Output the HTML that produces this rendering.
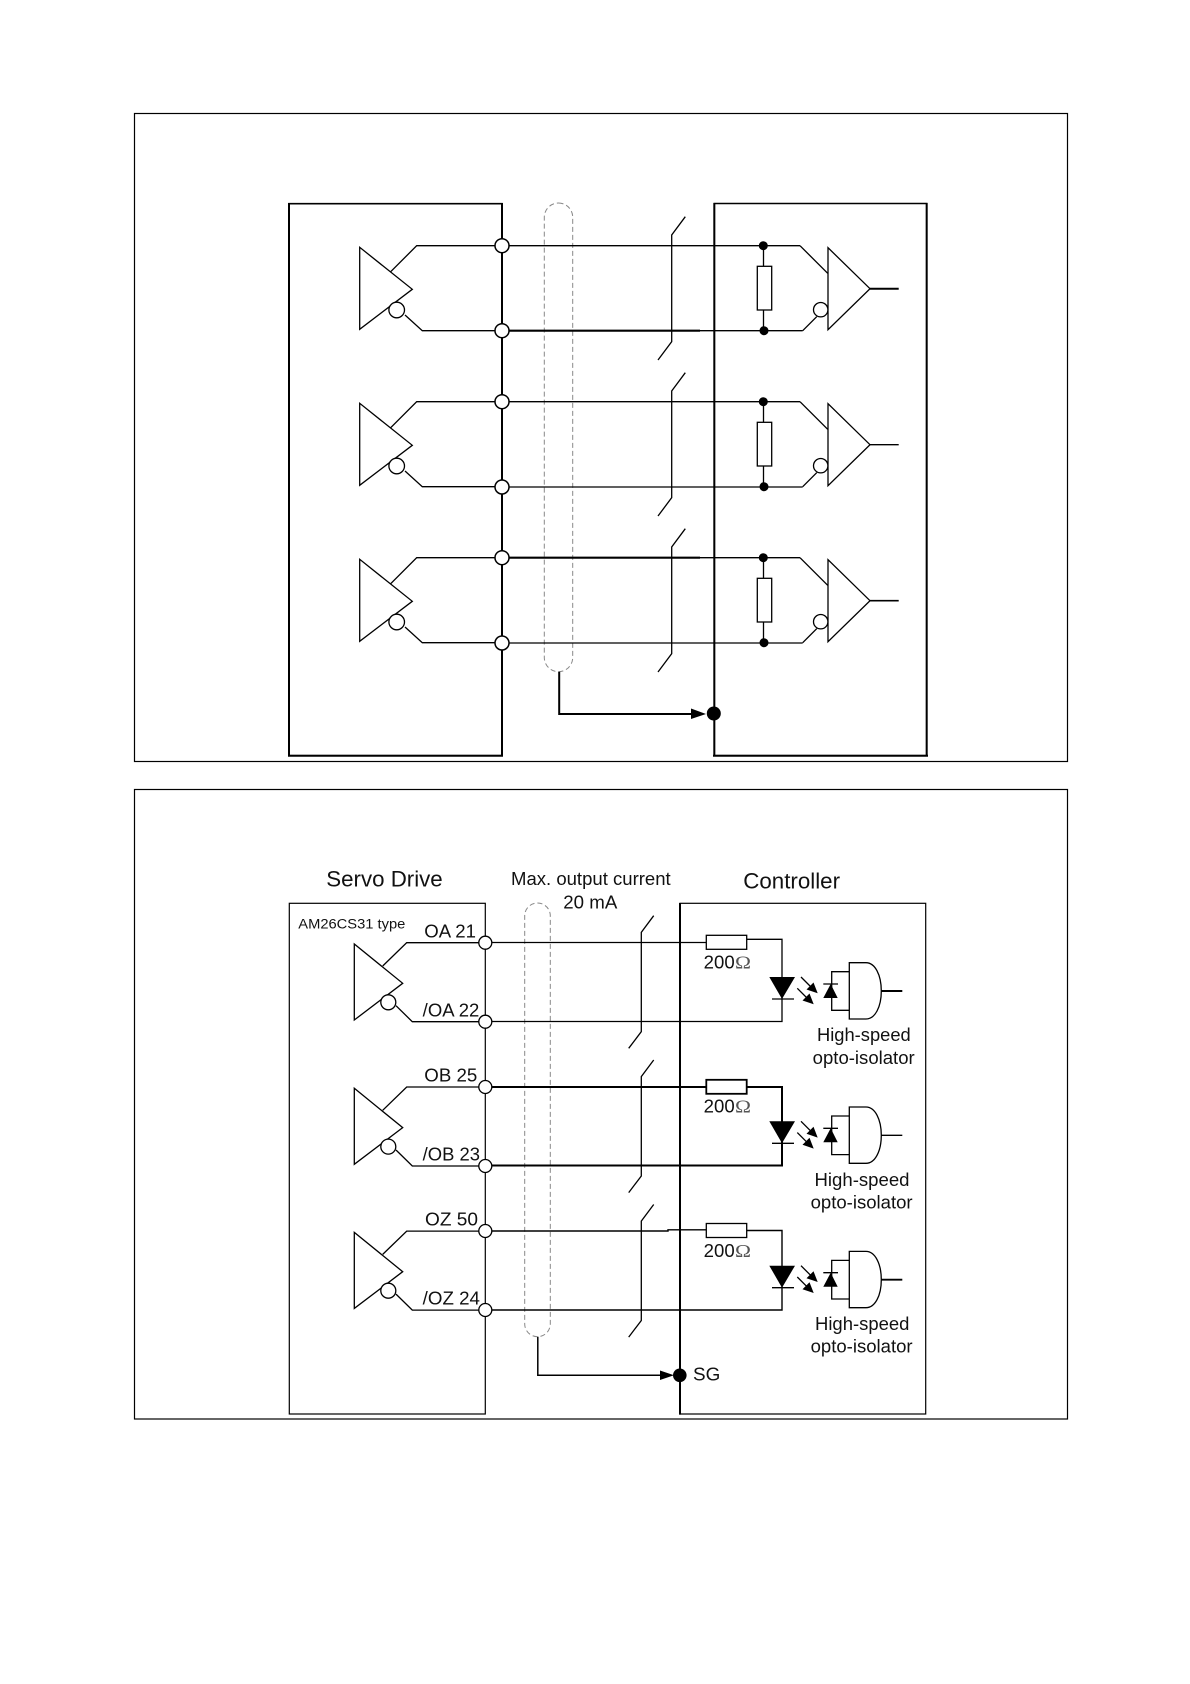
<!DOCTYPE html>
<html><head><meta charset="utf-8"><style>
html,body{margin:0;padding:0;background:#fff}
svg{display:block}
text{font-family:"Liberation Sans",Arial,sans-serif;fill:#111}
</style></head><body>
<svg width="1190" height="1684" viewBox="0 0 1190 1684" xmlns="http://www.w3.org/2000/svg">
<defs>
<g id="a">
  <path d="M359.7 247.3V329.3L412.3 289.3Z" fill="#fff"/>
  <path d="M390.7 271.7L416.7 245.7H502M405 315L422.3 330.7H502" fill="none"/>
  <circle cx="396.7" cy="310" r="7.8" fill="#fff"/>
</g>
<g id="b">
  <path d="M800 245.7L827.7 273.3M802.7 330.7L816.7 316.7M763.5 245.7V330.7" fill="none" stroke-width="1.3"/>
  <rect x="757.3" y="266.3" width="14.4" height="43.7" fill="#fff"/>
  <circle cx="763.3" cy="245.7" r="4.5" fill="#000" stroke="none"/>
  <circle cx="764" cy="330.7" r="4.5" fill="#000" stroke="none"/>
  <path d="M828 247.7V329.7L870 288.7Z" fill="#fff"/>
  <circle cx="820.7" cy="309.7" r="7.2" fill="#fff"/>
</g>
<path id="t1" d="M685.3 216.7L671.7 235V341.7L658 360" fill="none"/>
<g id="c">
  <path d="M354.3 944V1020L402.7 983.3Z" fill="#fff"/>
  <path d="M382.7 966L406.7 942.7H485M396 1005.7L412.3 1021.7H485" fill="none"/>
  <circle cx="388.3" cy="1002.3" r="7.5" fill="#fff"/>
</g>
<path id="t2" d="M653.7 915.7L641.3 932.3V1031.7L628.7 1048.3" fill="none"/>
<g id="d">
  <path d="M801 977L812 988M797.3 988.3L808 999" fill="none" stroke-width="1.3"/>
  <path d="M817.7 993.3L806.5 989.5L813.5 982.5ZM813.7 1004.3L802.5 1000.5L809.5 993.5Z" fill="#000" stroke="none"/>
  <path d="M769.3 977H795L782 999Z" fill="#000" stroke="none"/>
  <path d="M772 999H794M823.3 984H838" fill="none" stroke-width="1.3"/>
  <path d="M830.7 984L837.7 998H823.3Z" fill="#000" stroke="none"/>
  <path d="M849.3 971.7H831.7V1010.3H849.3" fill="none"/>
  <path d="M849.3 962.7H866C875 962.7 881.3 975 881.3 991C881.3 1007 875 1019 866 1019H849.3Z" fill="#fff" stroke-width="1.3"/>
</g>
</defs>

<rect width="1190" height="1684" fill="#fff"/>

<!-- Panel 1 -->
<rect x="134.5" y="113.5" width="933" height="648" fill="none" stroke="#000" stroke-width="1.2"/>
<path d="M289 755.7V203.7H502V755.7H289" fill="none" stroke="#000" stroke-width="1.6"/>
<path d="M289 203V756.5M502 203V756.5M288 755.7H503" fill="none" stroke="#000" stroke-width="2"/>
<path d="M714.3 755.7V203.5H926.7V755.7H714.3" fill="none" stroke="#000" stroke-width="1.6"/>
<path d="M714.3 203V756.5M926.7 203V756.5M713 755.7H928" fill="none" stroke="#000" stroke-width="2"/>
<rect x="544.3" y="203" width="28.4" height="468.7" rx="14.2" ry="14.2" fill="none" stroke="#888" stroke-width="1" stroke-dasharray="5 3"/>

<g stroke="#000" stroke-width="1.3" fill="none">
  <path d="M502 245.7H800M502 401.7H800M502 487H802.7M502 643H802.7M700 330.7H802.7M700 557.7H800"/>
  <path d="M502 330.7H700M502 557.7H700" stroke-width="2.2"/>
  <path d="M870 288.7H898.7" stroke-width="2"/>
  <path d="M870 444.7H898.7"/>
  <path d="M870 600.7H898.7" stroke-width="1.6"/>
  <path d="M559.2 671.7V714H692" stroke-width="2"/>
  <use href="#a"/><use href="#a" y="156"/><use href="#a" y="312"/>
  <use href="#t1"/><use href="#t1" y="156"/><use href="#t1" y="312"/>
  <use href="#b"/><use href="#b" y="156"/><use href="#b" y="312"/>
  <g fill="#fff" stroke-width="1.5">
    <circle cx="502" cy="245.7" r="7"/><circle cx="502" cy="330.7" r="7"/>
    <circle cx="502" cy="401.7" r="7"/><circle cx="502" cy="487" r="7"/>
    <circle cx="502" cy="557.7" r="7"/><circle cx="502" cy="643" r="7"/>
  </g>
</g>
<path d="M691 708.5L706 714L691 719Z" fill="#000"/>
<circle cx="713.8" cy="713.5" r="7" fill="#000"/>

<!-- Panel 2 -->
<rect x="134.5" y="789.5" width="933" height="629.5" fill="none" stroke="#000" stroke-width="1.2"/>
<rect x="289.3" y="903.3" width="196" height="510.7" fill="none" stroke="#000" stroke-width="1.2"/>
<rect x="680" y="903.3" width="245.7" height="510.7" fill="none" stroke="#000" stroke-width="1.2"/>
<path d="M680 903V1414.6" stroke="#000" stroke-width="2"/>
<rect x="524.7" y="903" width="25.6" height="433.7" rx="12.8" ry="12.8" fill="none" stroke="#888" stroke-width="1" stroke-dasharray="5 3"/>

<g stroke="#000" stroke-width="1.3" fill="none">
  <path d="M485 942.5H706.3M746.7 939.3H782V1021.5H485"/>
  <path d="M485 1087H706.3M746.7 1087H782V1165.5H485" stroke-width="2"/>
  <path d="M485 1231H668V1229.8H706.3M746.7 1230.5H782V1310H485" stroke-width="1.4"/>
  <g fill="#fff">
    <rect x="706.3" y="935.3" width="40.4" height="14"/>
    <rect x="706.3" y="1079.8" width="40.4" height="14" stroke-width="1.8"/>
    <rect x="706.3" y="1223.5" width="40.4" height="14"/>
  </g>
  <path d="M881 991H902.3" stroke-width="2"/>
  <path d="M881 1135.3H902.3"/>
  <path d="M881 1279.7H902.3" stroke-width="1.8"/>
  <path d="M537.8 1336.7V1375.3H661" stroke-width="1.5"/>
  <use href="#c"/><use href="#c" y="144.3"/><use href="#c" y="288.4"/>
  <use href="#t2"/><use href="#t2" y="144.3"/><use href="#t2" y="288.8"/>
  <use href="#d"/><use href="#d" y="144.3"/><use href="#d" y="288.7"/>
  <g fill="#fff">
    <circle cx="485.3" cy="942.7" r="6.5"/><circle cx="485.3" cy="1021.7" r="6.5"/>
    <circle cx="485.3" cy="1087" r="6.5"/><circle cx="485.3" cy="1166" r="6.5"/>
    <circle cx="485.3" cy="1231" r="6.5"/><circle cx="485.3" cy="1310" r="6.5"/>
  </g>
</g>
<path d="M660 1370.5L674 1375.3L660 1380Z" fill="#000"/>
<circle cx="679.8" cy="1375.3" r="6.8" fill="#000"/>

<!-- Labels -->
<text x="326.3" y="886.7" font-size="22.2" textLength="116.4" lengthAdjust="spacingAndGlyphs">Servo Drive</text>
<text x="511" y="885" font-size="18.6" textLength="159.7" lengthAdjust="spacingAndGlyphs">Max. output current</text>
<text x="563.3" y="908.3" font-size="18.6" textLength="54" lengthAdjust="spacingAndGlyphs">20 mA</text>
<text x="743.3" y="888.7" font-size="22.2" textLength="96.7" lengthAdjust="spacingAndGlyphs">Controller</text>
<text x="298.3" y="928.3" font-size="14.2" textLength="107" lengthAdjust="spacingAndGlyphs">AM26CS31 type</text>

<g font-size="18">
<text x="424.3" y="937.3" textLength="51.7" lengthAdjust="spacingAndGlyphs">OA 21</text>
<text x="422.7" y="1016.7" textLength="56.6" lengthAdjust="spacingAndGlyphs">/OA 22</text>
<text x="424.3" y="1081.3" textLength="53" lengthAdjust="spacingAndGlyphs">OB 25</text>
<text x="422.7" y="1160.5" textLength="57.3" lengthAdjust="spacingAndGlyphs">/OB 23</text>
<text x="425" y="1225.7" textLength="53" lengthAdjust="spacingAndGlyphs">OZ 50</text>
<text x="422.7" y="1304.5" textLength="57.3" lengthAdjust="spacingAndGlyphs">/OZ 24</text>

<text x="703.7" y="968.3" textLength="31" lengthAdjust="spacingAndGlyphs">200</text>
<text x="703.7" y="1112.7" textLength="31" lengthAdjust="spacingAndGlyphs">200</text>
<text x="703.7" y="1256.8" textLength="31" lengthAdjust="spacingAndGlyphs">200</text>
<text x="735" y="968.3" textLength="16" lengthAdjust="spacingAndGlyphs" style="font-family:'Liberation Serif',serif;fill:#555">Ω</text>
<text x="735" y="1112.7" textLength="16" lengthAdjust="spacingAndGlyphs" style="font-family:'Liberation Serif',serif;fill:#555">Ω</text>
<text x="735" y="1256.8" textLength="16" lengthAdjust="spacingAndGlyphs" style="font-family:'Liberation Serif',serif;fill:#555">Ω</text>

<text x="817" y="1041" textLength="93.7" lengthAdjust="spacingAndGlyphs">High-speed</text>
<text x="812.7" y="1064" textLength="102" lengthAdjust="spacingAndGlyphs">opto-isolator</text>
<text x="814.5" y="1186" textLength="95" lengthAdjust="spacingAndGlyphs">High-speed</text>
<text x="810.6" y="1208.5" textLength="102" lengthAdjust="spacingAndGlyphs">opto-isolator</text>
<text x="815" y="1330" textLength="94.4" lengthAdjust="spacingAndGlyphs">High-speed</text>
<text x="810.6" y="1352.5" textLength="102" lengthAdjust="spacingAndGlyphs">opto-isolator</text>
<text x="693" y="1380.7" textLength="27.3" lengthAdjust="spacingAndGlyphs">SG</text>
</g>
</svg>
</body></html>
